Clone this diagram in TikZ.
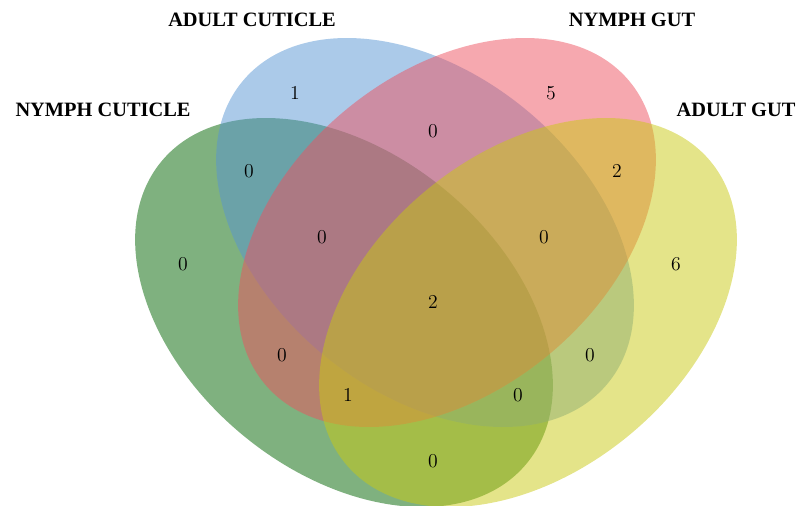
\documentclass[tikz,border=0pt]{standalone}
\usepackage{fontspec}
\newfontfamily\labelfont{Liberation Serif}
\usetikzlibrary{positioning}

\begin{document}
\begin{tikzpicture}[
    x=0.25mm, y=-0.25mm,
    setfill/.style={fill opacity=0.5},
    setname/.style={font=\labelfont\fontsize{14.5}{16}\selectfont\bfseries},
    count/.style={font=\fontsize{14}{16}\selectfont}
]
\definecolor{nymphcut}{RGB}{0,99,0}
\definecolor{adultcut}{RGB}{87,149,211}
\definecolor{nymphgut}{RGB}{237,81,95}
\definecolor{adultgut}{RGB}{201,201,19}

% Rahmen
\clip (0,0) rectangle (798,505);

% Mengen (gedrehte Ellipsen)
\fill[setfill, nymphcut, rotate around={-39.6:(344,312.5)}] (344,312.5) ellipse [x radius=237, y radius=159];
\fill[setfill, adultcut, rotate around={-39.6:(425,232.5)}] (425,232.5) ellipse [x radius=237, y radius=159];
\fill[setfill, nymphgut, rotate around={39.6:(447,232.5)}] (447,232.5) ellipse [x radius=237, y radius=159];
\fill[setfill, adultgut, rotate around={39.6:(528,312.5)}] (528,312.5) ellipse [x radius=237, y radius=159];

% Beschriftungen
\node[setname] (nc) at (103,110) {NYMPH CUTICLE};
\node[setname] (ac) at (252,20) {ADULT CUTICLE};
\node[setname] (ng) at (632,20) {NYMPH GUT};
\node[setname] (ag) at (736,110) {ADULT GUT};

% Anzahlen
\node[count] (b) at (295,93) {1};
\node[count] (p) at (551,93) {5};
\node[count] (gb) at (249,171) {0};
\node[count] (bp) at (433,131) {0};
\node[count] (py) at (617,171) {2};
\node[count] (g) at (183,264) {0};
\node[count] (gbp) at (322,237) {0};
\node[count] (bpy) at (544,237) {0};
\node[count] (y) at (676,264) {6};
\node[count] (all) at (433,302) {2};
\node[count] (gp) at (282,355) {0};
\node[count] (by) at (590,355) {0};
\node[count] (gpy) at (348,395) {1};
\node[count] (gby) at (518,395) {0};
\node[count] (gy) at (433,461) {0};

\end{tikzpicture}
\end{document}
